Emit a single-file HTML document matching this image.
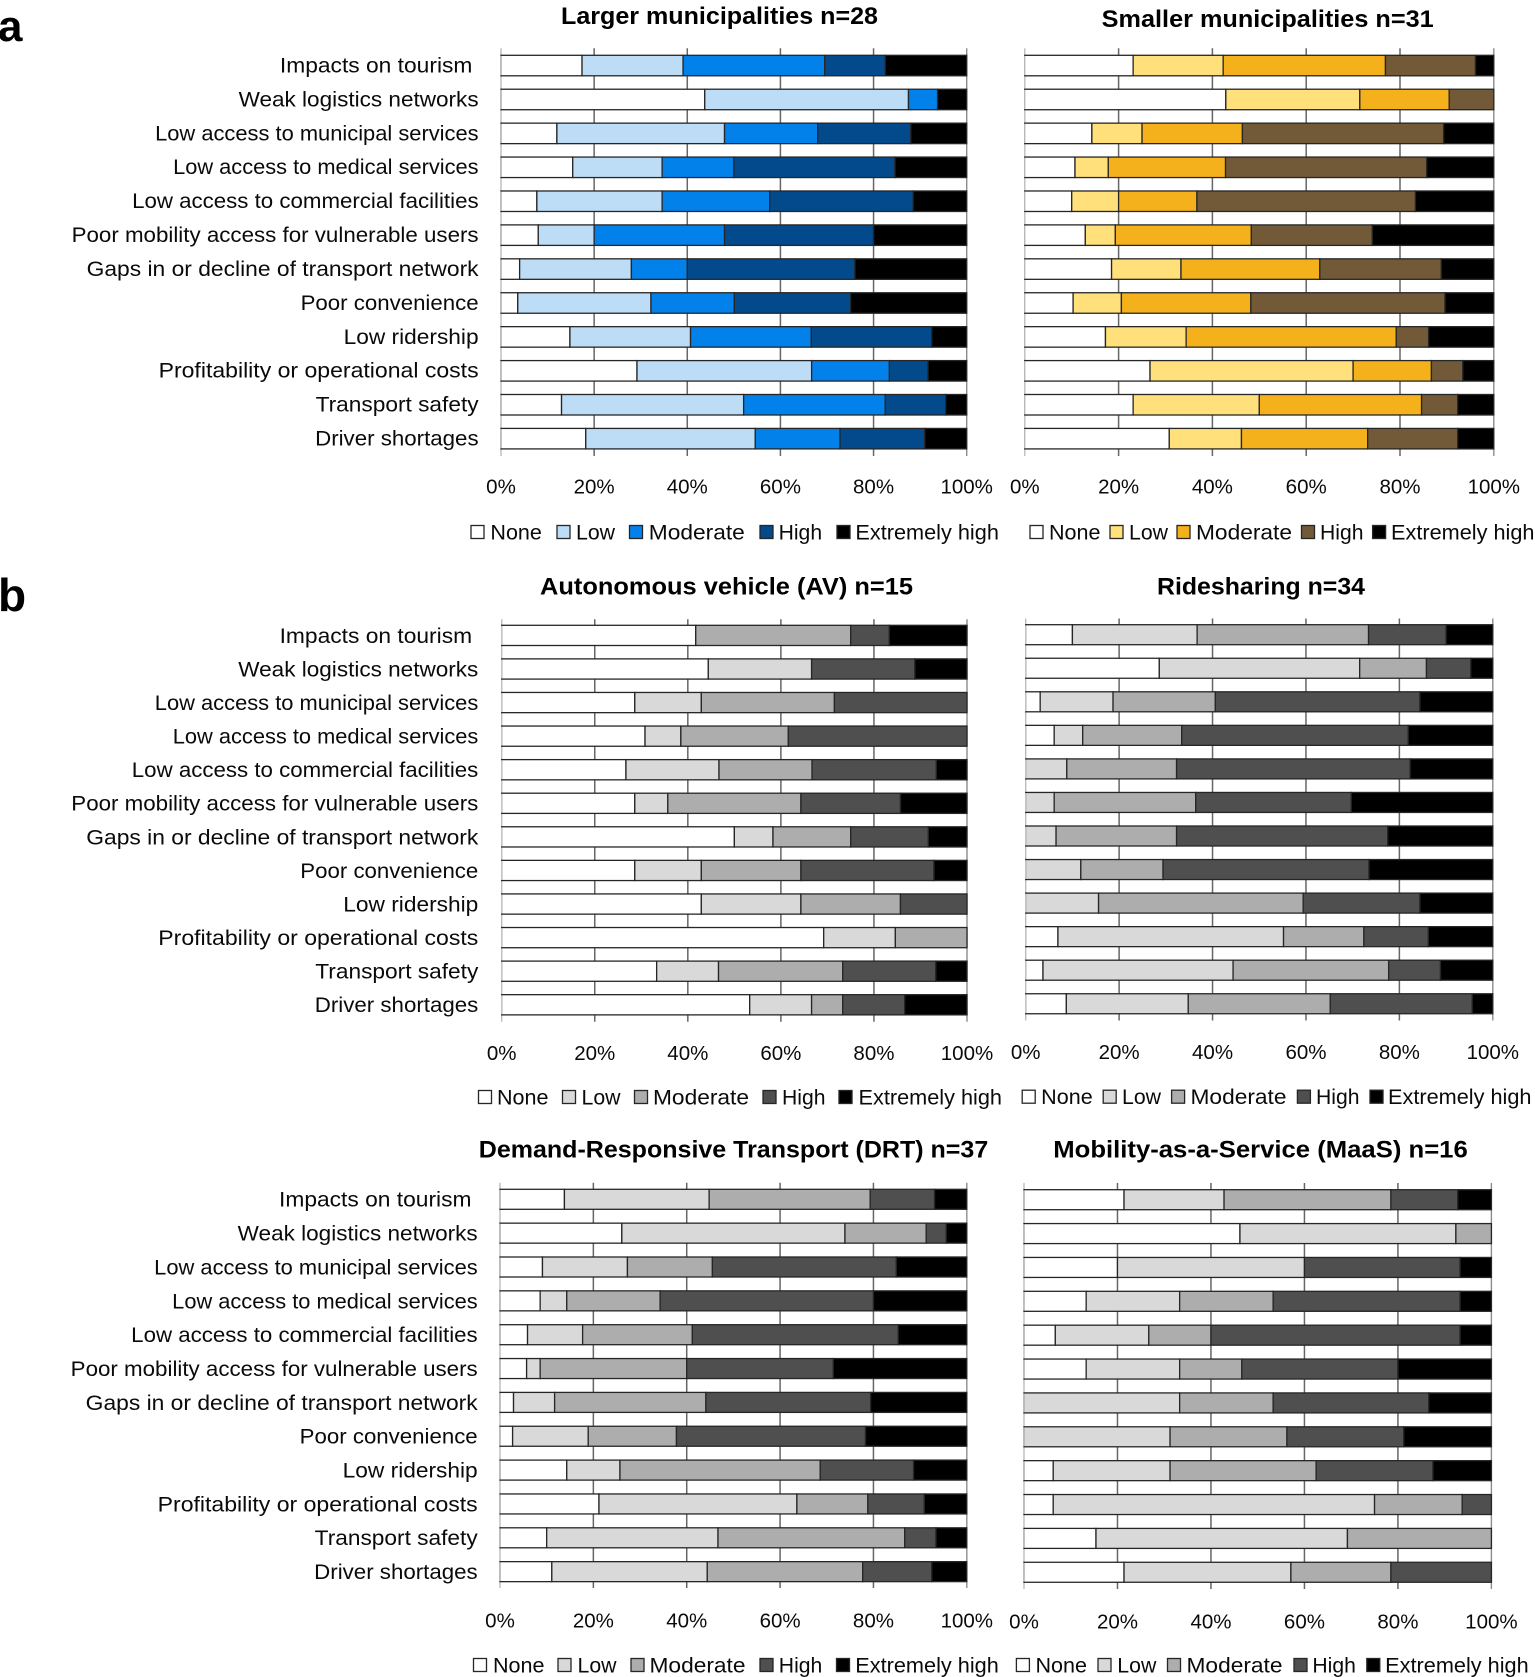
<!DOCTYPE html>
<html lang="en">
<head>
<meta charset="utf-8">
<title>Transport challenges by municipality size and mobility service</title>
<style>
html,body{margin:0;padding:0;background:#fff;}
#figure{display:block;width:1535px;height:1677px;font-family:"Liberation Sans",sans-serif;}
text{fill:#0a0a0a;font-family:"Liberation Sans",sans-serif;}
</style>
</head>
<body>
<svg id="figure" xmlns="http://www.w3.org/2000/svg" width="1535" height="1677" viewBox="0 0 1535 1677">
<rect x="0" y="0" width="1535" height="1677" fill="#ffffff"/>
<text x="-2" y="41" font-size="44" font-weight="700" style="fill:#000">a</text>
<text x="-2" y="611" font-size="46" font-weight="700" style="fill:#000">b</text>
</svg>
<script>
const categories = ["Impacts on tourism","Weak logistics networks","Low access to municipal services","Low access to medical services","Low access to commercial facilities","Poor mobility access for vulnerable users","Gaps in or decline of transport network","Poor convenience","Low ridership","Profitability or operational costs","Transport safety","Driver shortages"];
const levels = ["None","Low","Moderate","High","Extremely high"];
const tickLabels = ["0%","20%","40%","60%","80%","100%"];
const tickValues = [0,20,40,60,80,100];

const largerNone = [17.4,43.75,12,15.4,7.7,8,4,3.6,14.8,29.2,13,18.2];
const largerLow = [21.7,43.75,36,19.2,26.9,12,24,28.6,25.9,37.5,39.1,36.4];
const largerModerate = [30.4,6.25,20,15.4,23.1,28,12,17.9,25.9,16.7,30.4,18.2];
const largerHigh = [13,0,20,34.6,30.8,32,36,25,25.9,8.3,13,18.2];
const largerExtreme = [17.5,6.25,12,15.4,11.5,20,24,24.9,7.5,8.3,4.5,9];

const smallerNone = [23.1,42.86,14.3,10.7,10,12.9,18.5,10.3,17.2,26.7,23.1,30.8];
const smallerLow = [19.2,28.57,10.7,7.1,10,6.4,14.8,10.3,17.2,43.3,26.9,15.4];
const smallerModerate = [34.6,19.05,21.4,25,16.7,29,29.6,27.6,44.8,16.7,34.6,26.9];
const smallerHigh = [19.2,9.52,42.9,42.9,46.6,25.8,25.9,41.4,6.9,6.7,7.7,19.2];
const smallerExtreme = [3.9,0,10.7,14.3,16.7,25.9,11.2,10.4,13.9,6.6,7.7,7.7];

const avNone = [41.7,44.4,28.6,30.8,26.7,28.6,50,28.6,42.9,69.2,33.3,53.3];
const avLow = [0,22.2,14.3,7.7,20,7.1,8.3,14.3,21.4,15.4,13.3,13.3];
const avModerate = [33.3,0,28.6,23.1,20,28.6,16.7,21.4,21.4,15.4,26.7,6.7];
const avHigh = [8.3,22.2,28.5,38.4,26.7,21.4,16.7,28.6,14.3,0,20,13.3];
const avExtreme = [16.7,11.2,0,0,6.6,14.3,8.3,7.1,0,0,6.7,13.4];

const rideNone = [10,28.6,3.1,6.1,0,0,0,0,0,6.9,3.7,8.7];
const rideLow = [26.7,42.9,15.6,6.1,8.8,6.1,6.5,11.8,15.6,48.3,40.7,26.1];
const rideModerate = [36.7,14.3,21.9,21.2,23.5,30.3,25.8,17.6,43.8,17.2,33.3,30.4];
const rideHigh = [16.6,9.5,43.8,48.5,50,33.3,45.2,44.1,25,13.8,11.1,30.4];
const rideExtreme = [10,4.7,15.6,18.1,17.7,30.3,22.5,26.5,15.6,13.8,11.2,4.4];

const drtNone = [13.8,26.1,9.1,8.6,5.9,5.7,2.9,2.7,14.3,21.2,10,11.1];
const drtLow = [31,47.8,18.2,5.7,11.8,2.9,8.8,16.2,11.4,42.4,36.7,33.3];
const drtModerate = [34.5,17.4,18.2,20,23.5,31.4,32.4,18.9,42.9,15.2,40,33.3];
const drtHigh = [13.8,4.3,39.4,45.7,44.1,31.4,35.3,40.5,20,12.1,6.7,14.8];
const drtExtreme = [6.9,4.4,15.1,20,14.7,28.6,20.6,21.7,11.4,9.1,6.6,7.5];

const maasNone = [21.4,46.2,20,13.3,6.7,13.3,0,0,6.25,6.25,15.4,21.4];
const maasLow = [21.4,46.2,40,20,20,20,33.3,31.25,25,68.75,53.8,35.7];
const maasModerate = [35.7,7.6,0,20,13.3,13.3,20,25,31.25,18.75,30.8,21.4];
const maasHigh = [14.3,0,33.3,40,53.3,33.4,33.3,25,25,6.25,0,21.5];
const maasExtreme = [7.2,0,6.7,6.7,6.7,20,13.4,18.75,12.5,0,0,0];

const svgNS = "http://www.w3.org/2000/svg";
const figure = document.getElementById("figure");

function make(tag, attrs, parent, content) {
  const el = document.createElementNS(svgNS, tag);
  for (const k in attrs) el.setAttribute(k, attrs[k]);
  if (content !== undefined) el.textContent = content;
  parent.appendChild(el);
  return el;
}

function drawPanel(p) {
  const labelWidth = {"Impacts on tourism":192.5,"Weak logistics networks":240,"Low access to municipal services":323.5,"Low access to medical services":305.5,"Low access to commercial facilities":346.5,"Poor mobility access for vulnerable users":407,"Gaps in or decline of transport network":392,"Poor convenience":178,"Low ridership":135,"Profitability or operational costs":320,"Transport safety":163,"Driver shortages":163.5};
  const legendTextWidth = {"None":51.5,"Low":39,"Moderate":96,"High":43.5,"Extremely high":143.5};
  const x = v => p.x0 + (p.x1 - p.x0) * v / 100;
  const y = i => p.top + p.pitch * i;

  const g = make("g", {}, figure);
  
  

  const title = make("text", {x:p.titleX, y:p.titleY + 8.5, "font-size":24.5, "font-weight":700, "text-anchor":"middle", textLength:p.titleW, lengthAdjust:"spacingAndGlyphs", style:"fill:#000"}, g, p.title);
  
  

  tickValues.forEach((t, ti) => {
    const edge = t === 0 || t === 100;
    const grid = make("line", {x1:x(t), x2:x(t), y1:p.axisTop, y2:p.axisBottom, stroke: t === 0 ? "#bdbdbd" : (t === 100 ? "#8c8c8c" : "#666666"), "stroke-width": edge ? 1.4 : 1.5}, g);
    
    
    const tick = make("text", {x:x(t), y:p.tickY + 7.4, "font-size":20.5, "text-anchor":"middle"}, g, tickLabels[ti]);
    
    
  });

  categories.forEach((cat, i) => {
    if (p.labelRight) {
      const lab = make("text", {x: i === 0 ? p.labelRight - 6.2 : p.labelRight, y: y(i) + p.barH / 2 + 7.4 + p.labelShift, "font-size":21.5, "text-anchor":"end", textLength:labelWidth[cat], lengthAdjust:"spacingAndGlyphs"}, g, cat);
      
      
    }
    let cum = 0;
    p.series.forEach((vals, s) => {
      const v = vals[i];
      if (v > 0) {
        const seg = make("rect", {x:x(cum), y:y(i), width:x(cum + v) - x(cum), height:p.barH, fill:p.colors[s], stroke:"#262626", "stroke-width":1.3}, g);
        
        
      }
      cum += v;
    });
    const leftEdge = make("line", {x1:p.x0, x2:p.x0, y1:y(i) + 0.6, y2:y(i) + p.barH - 0.6, stroke:"#c4c4c4", "stroke-width":1.4}, g);
    
    
  });

  levels.forEach((lev, s) => {
    const item = p.legend[s];
    const sw = make("rect", {x:item[0], y:p.legendY - 6.5, width:13, height:13, fill:p.colors[s], stroke:"#262626", "stroke-width":1.3}, g);
    
    
    const t = make("text", {x:item[1], y:p.legendY + 7.4, "font-size":21, textLength:legendTextWidth[lev], lengthAdjust:"spacingAndGlyphs"}, g, lev);
    
    
  });
}

const blues = ["#ffffff","#bddcf5","#0381ea","#024a8c","#000000"];
const ambers = ["#ffffff","#ffe07a","#f5b11b","#725a38","#000000"];
const greys = ["#ffffff","#d9d9d9","#adadad","#4f4f4f","#000000"];

drawPanel({name:"larger-municipalities", title:"Larger municipalities n=28", titleX:719.5, titleY:15.6, titleW:317,
  x0:501, x1:966.7, top:55.3, pitch:33.92, barH:20.5, axisTop:48.3, axisBottom:456, tickY:486, legendY:532, labelRight:478.6, labelShift:-0.5,
  colors:blues, series:[largerNone,largerLow,largerModerate,largerHigh,largerExtreme],
  legend:[[471,490.4],[557,576],[629.5,648.8],[760,778.6],[837,855.4]]});

drawPanel({name:"smaller-municipalities", title:"Smaller municipalities n=31", titleX:1267.7, titleY:18.4, titleW:332,
  x0:1024.8, x1:1493.8, top:55.3, pitch:33.92, barH:20.5, axisTop:48.3, axisBottom:456, tickY:486, legendY:532, labelRight:0, labelShift:-0.5,
  colors:ambers, series:[smallerNone,smallerLow,smallerModerate,smallerHigh,smallerExtreme],
  legend:[[1030,1049],[1110,1129],[1177,1196],[1301.5,1320],[1372.6,1391]]});

drawPanel({name:"autonomous-vehicle", title:"Autonomous vehicle (AV) n=15", titleX:726.5, titleY:586, titleW:373,
  x0:501.7, x1:967, top:625.3, pitch:33.58, barH:20.2, axisTop:619.3, axisBottom:1021.7, tickY:1052.7, legendY:1097, labelRight:478.3, labelShift:0,
  colors:greys, series:[avNone,avLow,avModerate,avHigh,avExtreme],
  legend:[[478.5,497],[562.5,581.5],[634.5,653],[763,782],[839,858.5]]});

drawPanel({name:"ridesharing", title:"Ridesharing n=34", titleX:1261, titleY:586, titleW:208,
  x0:1025.7, x1:1492.8, top:624.7, pitch:33.55, barH:20, axisTop:618.5, axisBottom:1020.5, tickY:1051.7, legendY:1096.7, labelRight:0, labelShift:0,
  colors:greys, series:[rideNone,rideLow,rideModerate,rideHigh,rideExtreme],
  legend:[[1022.2,1041.2],[1103.2,1122],[1171.6,1190.5],[1297.4,1316],[1370,1388]]});

drawPanel({name:"demand-responsive-transport", title:"Demand-Responsive Transport (DRT) n=37", titleX:733.5, titleY:1149, titleW:509.5,
  x0:500, x1:966.8, top:1189.3, pitch:33.85, barH:20, axisTop:1182.7, axisBottom:1588, tickY:1620, legendY:1665, labelRight:477.7, labelShift:0,
  colors:greys, series:[drtNone,drtLow,drtModerate,drtHigh,drtExtreme],
  legend:[[473.5,493],[558,577.5],[631,649.5],[760,778.8],[836.5,855.3]]});

drawPanel({name:"mobility-as-a-service", title:"Mobility-as-a-Service (MaaS) n=16", titleX:1260.5, titleY:1149, titleW:414.5,
  x0:1024, x1:1491.4, top:1189.7, pitch:33.87, barH:20, axisTop:1183, axisBottom:1589, tickY:1621, legendY:1665, labelRight:0, labelShift:0,
  colors:greys, series:[maasNone,maasLow,maasModerate,maasHigh,maasExtreme],
  legend:[[1016.4,1035.5],[1098,1117.3],[1167.5,1186.5],[1294,1312.4],[1366.8,1385.2]]});
</script>
</body>
</html>
